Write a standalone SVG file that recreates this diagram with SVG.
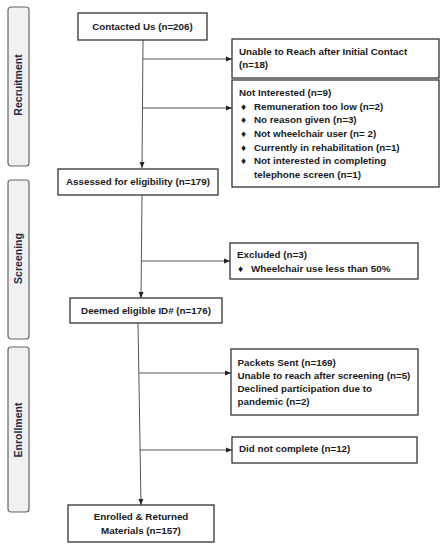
<svg xmlns="http://www.w3.org/2000/svg" width="447" height="550" viewBox="0 0 447 550">
<defs>
<marker id="arr" viewBox="0 0 6 6" refX="6" refY="3" markerWidth="6" markerHeight="6" markerUnits="userSpaceOnUse" orient="auto">
<path d="M0,0.5 L6,3 L0,5.5 Z" fill="#222"/>
</marker>
<style>
.box{fill:#fff;stroke:#333;stroke-width:1.3}
.side{fill:#f1f1f1;stroke:#666;stroke-width:1.2}
.t{font-family:"Liberation Sans",Arial,sans-serif;font-weight:bold;font-size:9.8px;fill:#1a1a22}
.s{font-family:"Liberation Sans",Arial,sans-serif;font-weight:bold;font-size:10.5px;fill:#1f2a44}
.m{text-anchor:middle}
.ln{stroke:#555;stroke-width:1;fill:none}
</style>
</defs>
<rect width="447" height="550" fill="#fff"/>
<g id="phase-recruitment"><rect class="side" x="8" y="7" width="21" height="159" rx="3"/><text class="s m" transform="translate(22,85) rotate(-90)">Recruitment</text></g>
<g id="phase-screening"><rect class="side" x="8" y="180" width="21" height="159" rx="3"/><text class="s m" transform="translate(22,258.5) rotate(-90)">Screening</text></g>
<g id="phase-enrollment"><rect class="side" x="8" y="347" width="21" height="165" rx="3"/><text class="s m" transform="translate(22,430) rotate(-90)">Enrollment</text></g>
<g id="connectors">
<line class="ln" x1="143" y1="40" x2="142" y2="168" marker-end="url(#arr)"/>
<line class="ln" x1="143" y1="59" x2="232" y2="59" marker-end="url(#arr)"/>
<line class="ln" x1="143" y1="108" x2="232" y2="108" marker-end="url(#arr)"/>
<line class="ln" x1="142" y1="195" x2="141" y2="298" marker-end="url(#arr)"/>
<line class="ln" x1="141" y1="261" x2="230" y2="261" marker-end="url(#arr)"/>
<line class="ln" x1="138" y1="323" x2="141" y2="505" marker-end="url(#arr)"/>
<line class="ln" x1="139" y1="373" x2="231" y2="373" marker-end="url(#arr)"/>
<line class="ln" x1="140" y1="450" x2="232" y2="450" marker-end="url(#arr)"/>
</g>
<g id="contacted"><rect class="box" x="78" y="13" width="129" height="27"/><text class="t m" x="142.5" y="30">Contacted Us (n=206)</text></g>
<g id="unable"><rect class="box" x="232" y="39" width="207" height="39"/><text class="t" x="239" y="54.5">Unable to Reach after Initial Contact</text><text class="t" x="239" y="67.5">(n=18)</text></g>
<g id="not-interested"><rect class="box" x="232" y="80" width="207" height="107"/>
<text class="t" x="239" y="95.5">Not Interested (n=9)</text>
<text class="t" x="241" y="109.5">♦</text><text class="t" x="254" y="109.5">Remuneration too low (n=2)</text>
<text class="t" x="241" y="123">♦</text><text class="t" x="254" y="123">No reason given (n=3)</text>
<text class="t" x="241" y="137">♦</text><text class="t" x="254" y="137">Not wheelchair user (n= 2)</text>
<text class="t" x="241" y="150.5">♦</text><text class="t" x="254" y="150.5">Currently in rehabilitation (n=1)</text>
<text class="t" x="241" y="164">♦</text><text class="t" x="254" y="164">Not interested in completing</text>
<text class="t" x="254" y="177.5">telephone screen (n=1)</text>
</g>
<g id="assessed"><rect class="box" x="58" y="169" width="160" height="26"/><text class="t m" x="138" y="184.5">Assessed for eligibility (n=179)</text></g>
<g id="excluded"><rect class="box" x="230" y="243" width="188" height="36"/><text class="t" x="237" y="257.5">Excluded (n=3)</text><text class="t" x="238" y="272">♦</text><text class="t" x="251" y="272">Wheelchair use less than 50%</text></g>
<g id="deemed"><rect class="box" x="70" y="298" width="152" height="25"/><text class="t m" x="146" y="313.5">Deemed eligible ID# (n=176)</text></g>
<g id="packets"><rect class="box" x="231" y="349" width="187" height="66"/>
<text class="t" x="237.5" y="366">Packets Sent (n=169)</text>
<text class="t" x="237.5" y="378.5">Unable to reach after screening (n=5)</text>
<text class="t" x="237.5" y="392">Declined participation due to</text>
<text class="t" x="237.5" y="405">pandemic (n=2)</text>
</g>
<g id="did-not-complete"><rect class="box" x="232" y="437" width="185" height="26"/><text class="t" x="239" y="452">Did not complete (n=12)</text></g>
<g id="enrolled"><rect class="box" x="68" y="505" width="146" height="37"/><text class="t m" x="141" y="519.5">Enrolled &amp; Returned</text><text class="t m" x="141" y="533.5">Materials (n=157)</text></g>
</svg>
